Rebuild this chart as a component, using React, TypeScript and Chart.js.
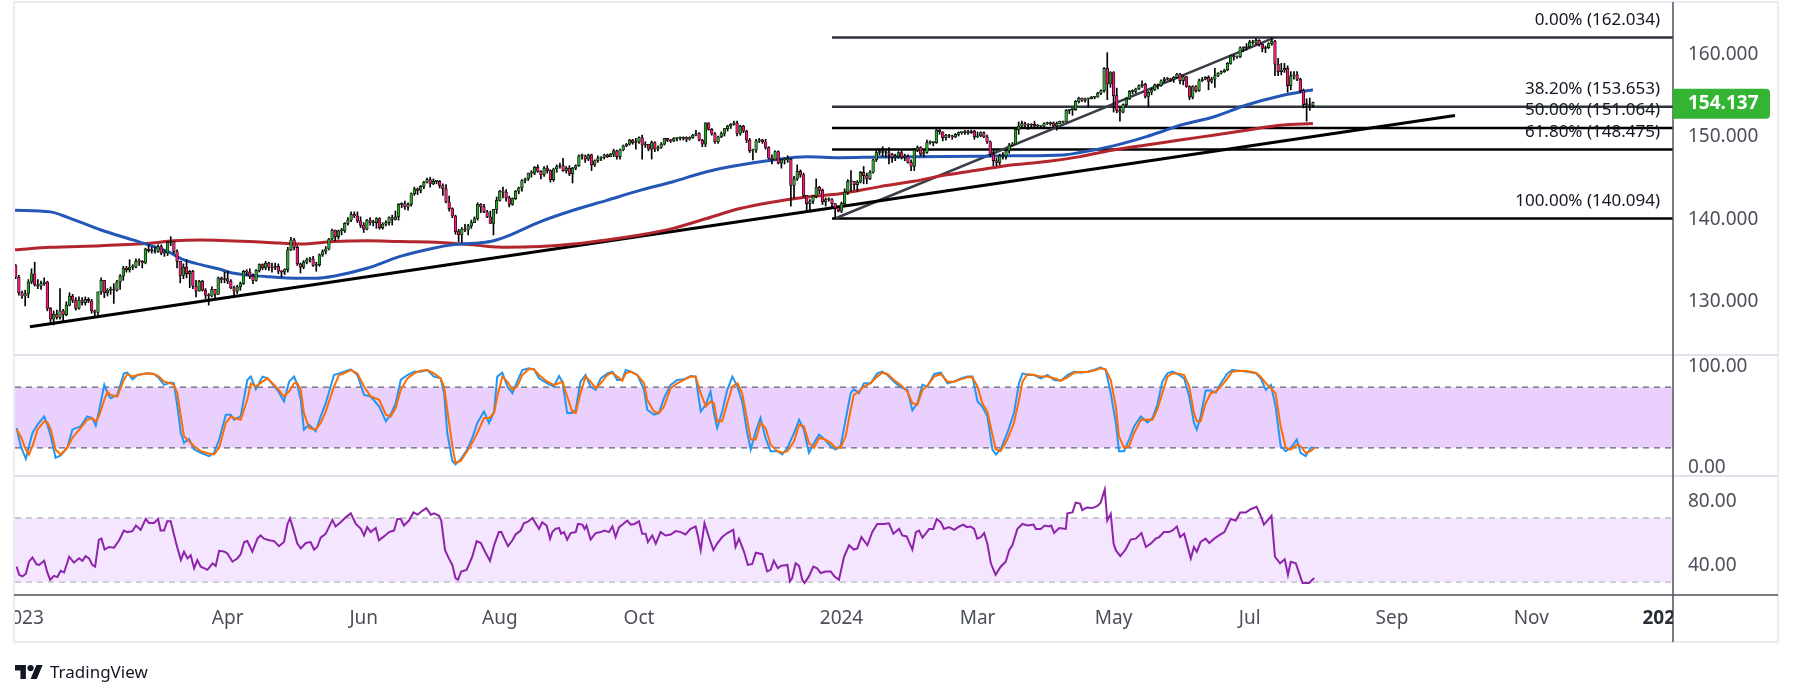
import React, { useEffect, useRef } from 'react';
import { Chart, registerables } from 'chart.js';

Chart.register(...registerables);

// ---------- x axis: one unit = one daily bar (Dec 29 2022 = bar 3) ----------
const X_MIN = 2.78;
const X_MAX = 526.8;
const FIRST_BAR = 3;
const FIRST_OPEN = 134.4;

const xLabels = ['2023', 'Apr', 'Jun', 'Aug', 'Oct', '2024', 'Mar', 'May', 'Jul', 'Sep', 'Nov', '2025'];
const xLabelBars = [5, 70, 113, 156, 200, 264, 307, 350, 393, 438, 482, 524];

// ---------- daily candles (USD/JPY) ----------
const closes = [
  133.0, 131.1, 130.7, 131.0, 132.4, 133.4, 132.1, 131.9, 132.2, 132.4,
  129.2, 127.9, 128.5, 128.1, 128.9, 128.4, 129.6, 130.7, 130.2, 129.2,
  130.2, 129.9, 130.3, 130.1, 128.9, 128.7, 131.2, 132.6, 131.1, 131.4,
  131.5, 131.4, 132.4, 133.1, 134.1, 133.9, 134.2, 134.2, 134.9, 134.9,
  134.7, 136.4, 136.2, 136.2, 136.1, 136.7, 135.9, 135.9, 137.2, 137.3,
  136.1, 134.9, 133.2, 134.2, 133.4, 133.7, 131.9, 131.3, 132.5, 131.4,
  130.8, 130.7, 131.5, 130.9, 132.9, 132.7, 132.8, 132.5, 131.7, 131.3,
  131.8, 132.2, 133.7, 133.6, 133.1, 132.6, 133.8, 134.5, 134.1, 134.7,
  134.2, 134.1, 134.3, 133.7, 133.6, 133.9, 136.3, 137.5, 136.6, 134.6,
  134.2, 134.8, 135.1, 135.2, 134.4, 134.5, 135.7, 136.1, 136.4, 137.6,
  138.7, 137.9, 138.6, 138.6, 139.5, 139.9, 140.6, 140.4, 139.8, 139.3,
  138.8, 139.9, 139.6, 139.6, 140.1, 139.0, 139.4, 139.6, 140.2, 140.0,
  140.3, 141.8, 141.9, 141.5, 141.8, 143.1, 143.7, 143.5, 144.0, 144.5,
  144.8, 144.3, 144.6, 144.6, 144.1, 143.7, 142.1, 141.3, 140.4, 138.5,
  138.1, 138.8, 138.7, 139.2, 139.6, 140.1, 141.8, 141.5, 140.9, 140.3,
  139.5, 141.2, 142.3, 143.4, 143.3, 142.6, 141.8, 142.5, 143.4, 143.8,
  144.7, 144.9, 145.6, 145.6, 146.3, 145.8, 145.4, 146.2, 145.9, 144.8,
  146.1, 146.4, 146.5, 145.9, 146.2, 145.5, 146.2, 146.5, 147.7, 147.7,
  147.3, 147.8, 146.6, 147.1, 147.4, 147.5, 147.8, 147.6, 147.9, 148.3,
  147.6, 148.4, 148.9, 149.1, 149.6, 149.3, 149.4, 149.9, 149.0, 149.1,
  148.5, 149.3, 148.5, 148.7, 149.1, 149.8, 149.6, 149.5, 149.8, 149.8,
  149.8, 149.9, 149.7, 149.9, 150.2, 150.4, 149.6, 149.1, 151.7, 150.9,
  150.4, 149.4, 150.0, 150.4, 151.0, 151.3, 151.5, 151.7, 150.4, 151.3,
  150.7, 149.6, 148.3, 148.4, 149.5, 149.6, 149.4, 148.7, 147.4, 147.2,
  148.2, 146.8, 147.2, 147.2, 147.3, 144.1, 144.9, 145.8, 145.4, 142.9,
  141.9, 142.2, 142.8, 143.9, 143.5, 142.1, 142.4, 142.4, 141.9, 141.4,
  141.0, 141.9, 143.3, 144.6, 144.6, 144.2, 144.5, 145.7, 145.3, 144.9,
  145.7, 147.2, 148.1, 148.1, 148.1, 148.1, 147.9, 147.5, 147.6, 148.1,
  147.5, 147.6, 146.9, 146.4, 148.4, 148.7, 147.9, 148.1, 149.3, 149.3,
  149.3, 150.8, 150.6, 149.9, 150.2, 150.1, 150.0, 150.3, 150.5, 150.5,
  150.7, 150.5, 150.7, 150.0, 150.1, 150.5, 150.0, 149.4, 147.9, 147.1,
  146.9, 147.7, 147.7, 148.3, 149.0, 149.1, 150.9, 151.3, 151.6, 151.4,
  151.4, 151.5, 151.3, 151.3, 151.3, 151.6, 151.6, 151.7, 151.3, 151.6,
  151.9, 151.8, 153.2, 153.3, 153.3, 154.3, 154.7, 154.4, 154.6, 154.6,
  154.8, 154.8, 155.3, 155.6, 158.3, 156.4, 157.8, 155.0, 153.2, 153.0,
  153.9, 154.6, 155.5, 155.5, 155.8, 156.2, 156.4, 154.9, 155.4, 155.7,
  156.3, 156.2, 156.8, 157.0, 157.0, 156.9, 157.2, 157.6, 156.8, 157.3,
  156.1, 154.8, 156.1, 155.6, 156.8, 157.0, 157.2, 156.7, 157.0, 157.4,
  157.7, 157.9, 158.1, 158.9, 159.8, 159.7, 159.7, 160.8, 160.8, 160.9,
  161.5, 161.4, 161.7, 161.2, 160.7, 160.8, 161.3, 161.6, 158.8, 157.9,
  158.1, 158.3, 156.2, 157.4, 157.5, 157.0, 155.6, 153.9, 153.9, 153.8, 154.137,
];
const highs = [
  134.5, 133.2, 131.3, 131.4, 132.7, 134.0, 134.8, 132.7, 132.5, 132.9,
  132.5, 129.3, 128.9, 129.0, 131.6, 129.1, 130.0, 131.1, 130.9, 130.5,
  130.6, 130.5, 130.6, 130.5, 130.3, 129.0, 131.2, 132.9, 132.6, 131.6,
  131.8, 132.2, 132.6, 133.3, 134.3, 134.3, 135.1, 134.5, 135.2, 135.2,
  135.0, 136.5, 136.9, 136.6, 136.6, 136.9, 136.9, 136.2, 137.3, 137.9,
  137.3, 136.3, 134.6, 134.6, 135.1, 133.8, 133.8, 132.6, 132.6, 132.6,
  131.6, 131.0, 131.8, 131.5, 133.0, 133.0, 133.6, 133.7, 132.7, 131.9,
  132.0, 132.4, 133.8, 133.9, 134.0, 133.4, 133.9, 134.6, 134.6, 134.9,
  134.8, 134.7, 134.7, 134.6, 133.8, 134.0, 136.6, 137.8, 137.7, 136.8,
  134.7, 135.0, 135.3, 135.4, 135.5, 134.8, 135.8, 136.3, 136.7, 137.7,
  138.8, 138.7, 138.7, 138.9, 139.6, 140.2, 140.9, 140.9, 140.9, 140.3,
  139.6, 140.0, 140.2, 139.9, 140.2, 140.2, 139.6, 139.8, 140.3, 140.5,
  141.0, 141.9, 142.0, 142.2, 142.0, 143.2, 143.9, 143.8, 144.1, 144.6,
  145.0, 145.1, 144.9, 144.7, 144.7, 144.3, 144.2, 142.8, 141.4, 140.5,
  138.8, 139.0, 139.4, 139.4, 139.9, 140.3, 142.0, 141.9, 141.8, 141.1,
  141.0, 141.2, 142.7, 143.5, 143.9, 143.6, 142.8, 142.6, 143.5, 143.9,
  144.8, 145.0, 145.6, 145.9, 146.4, 146.6, 145.9, 146.4, 146.5, 146.0,
  146.2, 146.6, 146.8, 147.4, 146.4, 146.5, 146.3, 146.6, 147.8, 147.9,
  147.8, 147.9, 147.9, 147.2, 147.7, 147.6, 147.9, 147.9, 148.0, 148.5,
  148.4, 148.5, 149.0, 149.2, 149.7, 149.7, 149.8, 150.0, 150.2, 149.4,
  149.1, 149.5, 149.4, 148.9, 149.3, 149.8, 149.8, 149.7, 149.9, 149.9,
  150.0, 150.0, 150.0, 150.0, 150.3, 150.8, 150.5, 149.7, 151.7, 151.7,
  151.0, 150.5, 150.1, 150.6, 151.0, 151.4, 151.6, 151.9, 151.9, 151.4,
  151.4, 150.8, 149.8, 148.5, 149.7, 149.8, 149.7, 149.7, 148.8, 147.8,
  148.3, 148.3, 147.3, 147.4, 147.7, 147.4, 145.2, 146.6, 146.0, 145.6,
  142.9, 142.4, 142.9, 144.9, 144.0, 143.7, 142.6, 142.6, 142.5, 141.9,
  141.6, 142.1, 143.7, 144.8, 145.9, 144.6, 144.7, 145.8, 146.4, 145.6,
  145.9, 147.3, 148.3, 148.5, 148.8, 148.3, 148.7, 148.0, 147.9, 148.2,
  148.3, 147.9, 147.8, 147.2, 148.6, 148.9, 148.8, 148.3, 149.6, 149.5,
  149.4, 150.9, 150.9, 150.6, 150.3, 150.3, 150.2, 150.4, 150.6, 150.6,
  150.8, 150.8, 150.8, 150.8, 150.6, 150.6, 150.6, 150.2, 149.5, 148.3,
  147.4, 147.9, 148.1, 148.4, 149.2, 149.3, 150.9, 151.8, 151.9, 151.8,
  151.6, 151.6, 151.9, 151.5, 151.4, 151.7, 151.8, 151.8, 151.8, 151.8,
  151.9, 151.9, 153.3, 153.3, 153.4, 154.4, 154.8, 154.7, 154.7, 154.7,
  154.9, 154.9, 155.4, 155.7, 158.4, 160.2, 157.9, 157.9, 155.9, 153.6,
  154.0, 154.7, 155.6, 155.7, 155.9, 156.3, 156.8, 156.5, 155.5, 155.9,
  156.4, 156.4, 156.9, 157.2, 157.2, 157.1, 157.3, 157.7, 157.7, 157.4,
  157.3, 156.2, 156.2, 156.2, 157.0, 157.2, 157.3, 157.4, 157.2, 158.3,
  157.8, 158.0, 158.2, 159.0, 159.9, 159.9, 159.8, 160.9, 160.9, 161.3,
  161.7, 161.7, 161.95, 161.8, 161.3, 161.0, 161.4, 162.03, 161.7, 159.5,
  158.9, 158.9, 158.6, 157.9, 157.9, 157.9, 157.1, 155.8, 154.6, 154.7, 154.2,
];
const lows = [
  132.8, 130.8, 130.4, 129.5, 130.5, 132.2, 131.9, 131.6, 131.5, 132.0,
  128.9, 127.5, 127.2, 127.9, 127.9, 127.6, 128.3, 129.5, 129.9, 129.0,
  129.1, 129.6, 129.6, 129.9, 128.6, 128.1, 128.4, 130.9, 130.5, 130.7,
  130.9, 129.8, 131.3, 131.5, 132.6, 133.6, 133.6, 133.9, 134.1, 134.4,
  134.1, 134.6, 136.0, 135.9, 135.9, 136.0, 135.7, 135.5, 135.6, 136.8,
  135.9, 134.1, 132.3, 132.8, 132.9, 131.7, 131.6, 130.6, 131.3, 131.3,
  130.4, 129.6, 130.6, 130.4, 130.9, 132.3, 132.3, 132.2, 131.6, 130.6,
  131.0, 131.4, 132.1, 133.2, 132.8, 132.2, 132.5, 133.6, 133.9, 133.9,
  133.8, 133.6, 133.9, 133.4, 133.0, 133.3, 133.6, 136.2, 136.3, 134.4,
  133.5, 134.0, 134.6, 134.8, 134.3, 133.7, 134.3, 135.5, 135.8, 136.3,
  137.5, 137.4, 137.6, 138.1, 138.4, 139.3, 139.7, 140.2, 139.6, 139.0,
  138.4, 138.7, 139.3, 139.2, 138.9, 138.8, 138.8, 139.2, 139.3, 139.3,
  139.9, 139.9, 141.4, 141.2, 141.1, 141.6, 142.9, 143.0, 143.2, 143.7,
  144.4, 143.9, 144.2, 144.3, 143.8, 142.9, 142.0, 141.0, 140.2, 138.2,
  137.3, 137.2, 138.5, 138.1, 138.9, 139.6, 139.9, 140.8, 140.8, 140.2,
  139.5, 138.1, 140.7, 142.2, 142.6, 142.2, 141.5, 141.7, 142.4, 143.1,
  143.4, 144.4, 144.7, 145.1, 145.4, 145.7, 144.9, 145.2, 145.6, 144.5,
  144.6, 145.7, 146.2, 145.8, 145.6, 145.3, 144.4, 146.0, 146.4, 147.3,
  146.9, 147.1, 145.9, 146.4, 146.9, 147.1, 147.3, 147.5, 147.6, 147.6,
  147.3, 147.3, 148.3, 148.8, 149.0, 149.1, 148.5, 149.2, 147.3, 148.7,
  148.3, 147.3, 148.2, 148.3, 148.6, 149.0, 149.4, 149.3, 149.4, 149.5,
  149.6, 149.6, 149.4, 149.6, 149.8, 150.1, 149.5, 148.8, 148.8, 150.8,
  150.2, 149.2, 149.2, 149.9, 150.1, 150.7, 151.0, 151.4, 150.1, 150.2,
  150.5, 149.3, 148.1, 147.2, 148.1, 149.3, 149.2, 148.5, 147.3, 146.7,
  147.2, 146.7, 146.2, 146.7, 146.9, 141.6, 142.6, 144.7, 145.1, 142.7,
  140.9, 140.9, 141.9, 142.6, 143.1, 141.8, 141.6, 142.2, 141.4, 140.094,
  140.9, 140.8, 141.8, 143.0, 143.4, 143.6, 143.4, 144.4, 144.3, 144.3,
  144.8, 145.6, 147.0, 147.8, 147.6, 147.5, 146.7, 146.9, 147.1, 147.4,
  147.3, 147.1, 146.8, 145.9, 145.9, 148.2, 147.7, 147.6, 148.0, 149.1,
  148.9, 149.2, 150.3, 149.5, 149.6, 149.9, 149.7, 149.9, 150.1, 150.3,
  150.3, 150.3, 150.4, 149.7, 149.9, 150.0, 149.9, 149.2, 147.6, 146.5,
  146.5, 146.6, 147.3, 147.3, 148.0, 148.9, 149.2, 150.3, 151.0, 151.2,
  150.9, 151.2, 151.0, 151.1, 151.2, 151.2, 151.5, 151.4, 151.1, 150.8,
  151.6, 151.7, 151.8, 152.8, 152.6, 153.2, 154.1, 154.3, 154.2, 153.6,
  154.6, 154.6, 154.8, 155.1, 155.4, 154.5, 156.0, 153.0, 152.9, 151.9,
  152.9, 153.7, 154.5, 155.2, 155.3, 155.7, 156.0, 154.7, 153.6, 155.1,
  155.6, 155.8, 156.1, 156.6, 156.9, 156.7, 156.6, 157.1, 156.4, 156.3,
  156.0, 154.5, 154.6, 155.4, 155.5, 156.7, 156.9, 155.7, 156.5, 156.0,
  157.3, 157.6, 157.8, 158.0, 158.8, 159.3, 159.5, 159.6, 160.3, 160.5,
  160.8, 161.2, 161.2, 161.0, 160.3, 160.2, 160.7, 161.1, 157.4, 157.4,
  157.5, 157.8, 155.4, 155.7, 157.0, 156.8, 155.4, 153.5, 151.9, 153.2, 153.6,
];

// ---------- moving averages [bar, value] ----------
const sma100 = [
  [2.8, 141.1], [14, 140.9], [19, 140.3], [30, 138.7], [40, 137.5], [51, 136.1], [56, 135.1],
  [61.5, 134.5], [67, 134.0], [72, 133.45], [82.5, 133.05], [93, 132.84], [98, 132.84],
  [103.5, 133.1], [114, 134.06], [124.5, 135.5], [135, 136.5], [141, 136.9], [148, 137.1],
  [153, 137.3], [158, 137.9], [168.7, 139.7], [179.2, 141.1], [189.8, 142.3], [200.3, 143.5],
  [210.8, 144.56], [221.4, 145.77], [231.9, 146.58], [242.4, 147.19], [253, 147.59],
  [263.5, 147.47], [276.2, 147.55], [297.3, 147.6], [318.3, 147.7], [334.1, 147.8],
  [339.4, 148.1], [349.9, 148.9], [360.4, 150.02], [365.7, 150.7], [371, 151.4],
  [381.5, 152.4], [392, 153.86], [402.6, 154.95], [413, 155.7],
];
const sma200 = [
  [2.8, 136.3], [14, 136.6], [30, 136.8], [45.5, 137.1], [53, 137.4], [61.5, 137.5],
  [82.5, 137.2], [93, 137.0], [103.5, 137.3], [114, 137.4], [124.5, 137.3], [137, 137.2],
  [147.6, 136.9], [158, 136.6], [168.7, 136.7], [179.2, 137.0], [189.8, 137.5], [200.3, 138.1],
  [210.8, 138.9], [221.4, 140.1], [231.9, 141.3], [242.4, 142.1], [253, 142.7], [263.5, 143.1],
  [276.2, 143.96], [286.8, 144.6], [297.3, 145.4], [307.8, 146.0], [318.3, 146.6],
  [328.9, 147.0], [339.4, 147.6], [349.9, 148.4], [360.4, 149.0], [371, 149.6],
  [381.5, 150.2], [392, 150.8], [402.6, 151.4], [413, 151.6],
];

// ---------- drawings ----------
const trendLine = [[7.5, 126.98], [457.9, 152.58]];
const channelLine = [[262.0, 140.094], [400.8, 162.034]];
const FIB_START = 261.0;
const fibPrices = [162.034, 153.653, 151.064, 148.475, 140.094];
const fibLabels = ['0.00% (162.034)', '38.20% (153.653)', '50.00% (151.064)', '61.80% (148.475)', '100.00% (140.094)'];
const fibColors = ['#2f323c', '#2f323c', '#000000', '#000000', '#000000'];
const LAST_PRICE = 154.137;

// ---------- Stochastic [bar, %K, %D] ----------
const stochSamples = [
  [3.3, 39.6, 38.0], [4.6, 21.6, 31.4], [6.2, 9.1, 18.3], [7.2, 21.6, 13.4], [8.3, 34.7, 21.6],
  [9.9, 42.9, 38.0], [12, 51.1, 46.2], [13, 42.9, 45.2], [14.1, 31.4, 38.0], [15.6, 10.1, 18.3],
  [17.2, 12.4, 13.4], [19.3, 20.0, 20.0], [20.9, 38.0, 29.8], [23.5, 41.3, 39.6], [25.6, 51.1, 47.8],
  [27.2, 49.5, 49.5], [28.3, 41.9, 46.2], [29.3, 56.0, 51.1], [31, 82.3, 67.5], [32, 74.1, 75.7],
  [33, 69.2, 72.4], [35.1, 72.4, 70.8], [37.2, 93.7, 87.2], [38.3, 94.4, 93.1], [39.9, 87.8, 90.5],
  [41.5, 92.1, 92.1], [44.6, 93.7, 93.7], [46.7, 93.1, 93.1], [48.3, 88.8, 90.5], [49.9, 82.3, 85.5],
  [52, 84.6, 83.9], [53, 83.9, 82.3], [54.1, 60.9, 74.1], [55.2, 34.7, 51.1], [56.2, 24.9, 31.4],
  [57.8, 28.8, 26.5], [59.4, 18.3, 21.6], [61.5, 15.1, 16.7], [64.1, 11.8, 14.4], [65.7, 15.1, 13.4],
  [67.3, 28.2, 20.0], [69.4, 52.8, 44.6], [71, 52.8, 51.1], [72, 47.8, 49.5], [74.1, 51.1, 47.8],
  [76.2, 87.2, 67.5], [77.3, 90.5, 83.9], [78.9, 78.0, 80.6], [81, 90.5, 85.5], [82.6, 88.8, 88.8],
  [85.7, 77.4, 79.0], [87.8, 65.9, 70.8], [89.4, 85.5, 75.7], [91, 90.5, 83.9], [92, 82.3, 83.9],
  [93.1, 67.5, 77.4], [94.1, 38.0, 54.4], [95.7, 42.9, 39.6], [97.8, 36.4, 38.0], [99.4, 51.1, 44.6],
  [101, 64.2, 56.0], [103.6, 92.1, 80.6], [105.2, 93.7, 92.1], [106.8, 95.4, 93.7], [108.9, 97.7, 97.0],
  [111, 92.1, 93.7], [113.1, 72.4, 80.6], [115.2, 70.8, 70.8], [117.9, 60.9, 67.5], [120, 46.2, 52.8],
  [121.5, 52.8, 51.1], [123.1, 64.2, 59.3], [124.7, 87.2, 77.4], [126.8, 92.1, 88.8], [128.9, 95.4, 93.7],
  [130.9, 95.4, 96.4], [133.1, 97.0, 97.0], [135.2, 90.5, 93.7], [137.3, 88.8, 88.8], [138.4, 74.1, 80.6],
  [139.4, 34.7, 57.7], [141, 6.9, 21.6], [142, 3.6, 5.2], [143.6, 8.5, 6.9], [145.7, 18.3, 16.7],
  [147.3, 29.8, 24.9], [148.9, 44.6, 34.7], [151, 56.0, 49.5], [152.6, 44.6, 49.5], [154.2, 56.0, 54.4],
  [155.2, 90.5, 70.8], [156.8, 94.4, 90.5], [158.4, 80.6, 85.5], [160, 74.1, 77.4], [161.5, 85.5, 80.6],
  [163.1, 97.0, 92.1], [165.2, 98.7, 98.0], [166.8, 97.7, 97.7], [168.4, 88.8, 92.1], [171, 83.9, 85.5],
  [173.1, 80.6, 82.3], [174.7, 91.1, 83.9], [175.8, 85.5, 85.5], [177.3, 54.4, 70.8], [178.9, 54.4, 56.0],
  [180, 57.7, 54.4], [181.5, 85.5, 74.1], [183.1, 92.1, 90.5], [184.7, 80.6, 85.5], [186.3, 77.4, 79.0],
  [187.9, 88.8, 83.9], [190, 93.7, 92.1], [191.6, 95.4, 94.4], [193.1, 87.2, 90.5], [194.7, 87.2, 86.5],
  [195.8, 97.0, 93.7], [197.4, 95.4, 95.4], [199.5, 92.1, 92.1], [201.6, 77.4, 83.9], [202.6, 57.7, 67.5],
  [204.7, 52.8, 56.0], [206.3, 54.4, 54.4], [207.9, 69.2, 60.9], [210, 82.3, 79.0], [212.1, 87.2, 83.9],
  [214.2, 87.8, 87.2], [216.3, 91.1, 90.5], [217.9, 90.5, 90.5], [219.5, 56.0, 74.1], [221.1, 62.6, 60.9],
  [222.6, 75.7, 65.9], [223.7, 54.4, 64.2], [224.7, 39.6, 46.2], [226.3, 56.0, 46.2], [227.9, 77.4, 64.2],
  [229.5, 90.5, 80.6], [231.1, 80.6, 83.9], [232.6, 65.9, 74.1], [234.2, 34.7, 47.8], [235.3, 18.3, 28.2],
  [236.9, 36.4, 28.2], [238.4, 49.5, 44.6], [240, 29.8, 39.6], [241.6, 16.7, 23.2], [243.7, 16.7, 16.7],
  [245.3, 13.4, 15.1], [246.9, 20.0, 16.7], [249, 34.7, 26.5], [250.6, 47.8, 42.9], [252.1, 38.0, 41.3],
  [253.7, 15.1, 24.9], [255.3, 24.9, 20.0], [256.9, 33.1, 29.8], [258.5, 28.8, 28.8], [260.6, 21.6, 24.9],
  [262.1, 18.3, 20.0], [263.7, 21.6, 20.0], [265.3, 47.8, 31.4], [266.9, 74.1, 57.7], [267.9, 78.0, 72.4],
  [269.5, 74.1, 75.7], [271.1, 83.9, 80.6], [273.2, 83.9, 83.9], [275.3, 93.7, 90.5], [276.9, 95.4, 94.4],
  [278.5, 92.1, 93.1], [280.6, 85.5, 87.2], [282.7, 80.0, 82.3], [284.8, 77.4, 75.7], [286.4, 57.0, 64.2],
  [288, 64.2, 62.6], [289.6, 82.3, 77.4], [291.1, 80.6, 81.3], [293.3, 93.1, 90.5], [295.4, 94.4, 93.1],
  [297.5, 83.9, 85.5], [299.6, 85.5, 85.5], [301.7, 88.8, 87.8], [303.8, 90.5, 89.8], [305.4, 90.5, 89.8],
  [307, 65.9, 80.6], [308.5, 60.9, 64.2], [310.1, 51.1, 56.0], [311.7, 18.3, 33.1], [312.8, 13.4, 18.3],
  [314.3, 18.3, 16.7], [316.4, 34.7, 28.2], [318.5, 54.4, 44.6], [320.1, 83.9, 67.5], [321.2, 93.7, 85.5],
  [322.8, 92.1, 93.1], [324.9, 92.1, 92.1], [327, 88.8, 90.5], [329.1, 92.1, 90.5], [331.2, 87.2, 88.8],
  [333.3, 86.5, 86.5], [335.4, 92.1, 89.8], [337.5, 95.4, 94.4], [339.6, 94.4, 95.1], [341.7, 95.4, 95.1],
  [343.8, 97.0, 96.4], [345.9, 99.6, 98.7], [347.5, 97.0, 97.7], [349.1, 74.1, 87.2], [350.7, 44.6, 60.9],
  [351.7, 16.7, 31.4], [353.3, 16.7, 20.0], [354.9, 28.2, 21.6], [356.5, 41.3, 34.7], [358.6, 51.1, 47.8],
  [360.7, 45.2, 47.8], [362.3, 49.5, 47.8], [363.8, 62.6, 57.7], [365.4, 85.5, 74.1], [367, 93.7, 90.5],
  [368.6, 95.4, 93.7], [370.2, 93.1, 93.7], [372.3, 88.8, 92.1], [373.9, 70.8, 80.6], [375.4, 44.6, 54.4],
  [376.3, 38.0, 46.2], [377.5, 51.1, 46.2], [379.1, 76.7, 64.2], [380.7, 76.7, 74.1], [382.3, 74.7, 75.7],
  [383.9, 83.9, 80.6], [386, 93.7, 88.8], [387.5, 97.0, 95.4], [389.7, 96.4, 96.4], [392.3, 95.4, 95.7],
  [395, 93.7, 94.4], [396.5, 88.8, 90.5], [398.1, 77.4, 83.9], [399.7, 82.3, 79.0], [401.2, 60.9, 74.1],
  [402.8, 21.6, 41.3], [404.4, 16.7, 20.0], [406, 20.0, 18.3], [407.9, 28.2, 23.2], [409.1, 15.1, 21.6],
  [410.7, 11.8, 15.1], [412.3, 20.0, 16.7], [413.5, 20.0, 20.0],
];

// ---------- RSI [bar, value] ----------
const rsiSamples = [
  [3.3, 39.6], [4.1, 34.5], [5.1, 33.5], [6.2, 35.1], [7.2, 42.7], [8.3, 45.4], [9.6, 41.1], [10.4, 40.7],
  [12, 43.3], [13, 36.0], [13.9, 31.4], [15.1, 33.9], [16.2, 33.1], [17.2, 37.0], [18.3, 36.0], [19.9, 45.8],
  [21.4, 42.1], [23, 44.8], [24.1, 43.3], [25.1, 46.2], [26.2, 44.8], [27.2, 40.7], [28.1, 39.6], [29.3, 56.5],
  [30.1, 57.1], [31.1, 50.3], [32.5, 51.9], [34.1, 51.5], [35.7, 56.1], [37.2, 62.2], [38.3, 61.2], [39.9, 61.8],
  [41, 65.3], [42.5, 62.6], [44.1, 69.4], [45.1, 66.9], [46.7, 66.9], [48, 69.4], [48.8, 62.2], [49.9, 62.2],
  [50.9, 68.0], [52, 68.0], [53.6, 55.0], [55.2, 43.7], [56.2, 48.9], [57.3, 44.8], [58.3, 46.8], [59.4, 38.6],
  [60.4, 43.7], [61.5, 39.6], [63.6, 37.6], [65.2, 41.7], [66.2, 40.1], [67.3, 49.5], [68.8, 49.1], [69.9, 47.9],
  [71.5, 42.7], [73.1, 44.8], [74.1, 47.4], [75.2, 55.0], [76.2, 55.6], [77.8, 48.9], [79.4, 57.1], [80.4, 59.1],
  [81.5, 57.1], [83.1, 56.1], [84.7, 55.6], [86.2, 52.4], [87.8, 55.0], [88.9, 66.3], [89.7, 69.8], [91, 61.2],
  [92, 54.0], [93.1, 51.0], [94.7, 54.4], [96.2, 55.0], [97.3, 50.3], [98.3, 51.9], [99.4, 57.7], [101, 60.2],
  [103.1, 68.8], [104.1, 64.7], [105.7, 67.3], [107.3, 70.4], [108.9, 72.9], [110.5, 66.3], [112.1, 63.2],
  [113.1, 59.1], [114.1, 64.3], [115.2, 61.2], [116.8, 63.8], [117.8, 56.1], [119.4, 58.5], [121, 61.2],
  [122.6, 62.2], [123.6, 69.4], [124.7, 69.4], [125.7, 65.3], [127.3, 68.4], [128.7, 73.5], [130, 72.1],
  [131.5, 74.5], [132.8, 76.2], [134.2, 72.1], [135.2, 72.9], [136.8, 71.4], [137.5, 68.4], [138.7, 49.9],
  [139.9, 44.8], [141, 40.7], [142, 32.5], [142.8, 31.4], [143.8, 36.6], [145.5, 37.6], [147.3, 45.8],
  [148.7, 55.6], [150, 54.4], [151.5, 48.3], [152.9, 43.3], [154.2, 53.0], [155.7, 61.2], [156.5, 61.2],
  [157.3, 57.7], [158.6, 52.4], [160, 56.1], [161, 59.7], [162.6, 62.2], [163.6, 66.7], [164.9, 67.7],
  [166.3, 70.0], [167.3, 66.7], [168.4, 63.2], [169.4, 67.3], [170.8, 65.3], [171.9, 57.1], [172.6, 61.2],
  [173.6, 63.2], [174.7, 63.8], [175.4, 60.2], [176.3, 61.2], [177.3, 56.5], [178.4, 60.6], [180, 61.2],
  [180.7, 66.3], [182.1, 65.9], [182.8, 63.2], [183.4, 65.3], [184.7, 56.5], [186.3, 60.6], [187.9, 61.2],
  [189.1, 62.2], [190.5, 61.2], [191.6, 64.7], [192.6, 58.1], [193.7, 64.3], [195, 66.3], [196.3, 68.4],
  [197.4, 65.9], [198.6, 66.3], [200, 68.0], [201, 60.2], [202.1, 60.2], [202.8, 55.0], [204.2, 59.1],
  [205.3, 54.0], [206.8, 61.2], [208.4, 59.1], [210, 59.7], [211.6, 61.8], [213.2, 61.2], [214.7, 59.7],
  [216.3, 63.2], [217.9, 64.7], [218.6, 59.1], [219.5, 49.9], [220.7, 66.7], [222.1, 58.1], [223.5, 49.9],
  [224.7, 54.0], [226.3, 58.1], [227.9, 60.6], [229.8, 62.6], [230.5, 51.9], [231.6, 57.1], [233.2, 48.9],
  [234.4, 40.7], [235.8, 41.3], [236.9, 48.3], [239, 47.4], [240.5, 36.6], [241.6, 37.6], [242.6, 43.3],
  [243.9, 38.6], [244.8, 40.1], [246.9, 40.7], [247.7, 30.4], [248.4, 32.5], [249.5, 41.7], [250.6, 40.1],
  [251.6, 31.4], [252.3, 29.4], [253.7, 33.5], [255.1, 39.6], [256.3, 38.6], [257.4, 35.6], [259, 36.6],
  [260.6, 36.6], [261.8, 33.5], [263.2, 31.4], [264.8, 45.8], [266.4, 53.0], [267.9, 50.3], [269, 51.0],
  [270.3, 58.1], [272.2, 53.0], [273.7, 61.2], [275.3, 66.3], [277.4, 66.3], [279, 66.7], [280.4, 60.2],
  [282.2, 63.2], [283.2, 59.1], [284.6, 58.5], [286.4, 50.3], [287.5, 61.2], [288.5, 62.2], [289.6, 57.7],
  [290.6, 60.2], [291.7, 63.2], [293, 63.2], [294.1, 69.4], [295.4, 67.3], [296.4, 63.2], [298, 64.3],
  [299.6, 62.6], [301.2, 64.7], [302.5, 65.9], [303.6, 64.3], [304.8, 64.7], [305.9, 63.2], [306.9, 57.1],
  [308, 58.1], [309.1, 60.6], [310.1, 54.0], [311.2, 41.7], [312.7, 34.5], [314.3, 39.6], [315.9, 42.7],
  [317, 49.9], [318, 53.0], [319.6, 63.2], [321.2, 66.3], [322.8, 65.3], [324.7, 65.9], [325.4, 63.2],
  [327, 63.2], [328.2, 65.3], [329.6, 64.7], [330.3, 65.3], [331.2, 60.6], [332.8, 63.8], [334.9, 63.2],
  [335.4, 72.9], [337, 73.5], [338, 79.6], [339.4, 79.0], [340.1, 74.9], [341.5, 76.6], [343.3, 76.2],
  [344.9, 77.6], [345.9, 79.6], [347.2, 87.8], [348, 68.4], [349.1, 72.5], [350, 54.0], [350.7, 49.9],
  [352.1, 46.2], [353.8, 50.3], [355.4, 56.5], [357, 57.1], [358.8, 60.6], [360.2, 51.9], [361.7, 54.0],
  [363.3, 57.1], [364.4, 58.1], [365.9, 61.2], [367.5, 61.2], [368.6, 62.2], [370, 64.7], [371, 58.1],
  [372.3, 60.2], [374.4, 44.8], [375.4, 51.9], [376.3, 48.9], [377.5, 55.0], [379.1, 57.1], [380.2, 54.4],
  [381.8, 57.1], [383.3, 59.1], [385, 61.2], [387, 69.4], [388.6, 68.4], [390, 73.5], [391.8, 73.5],
  [393.3, 75.5], [395.2, 77.0], [396.5, 71.4], [397.5, 65.9], [398.6, 68.4], [399.9, 71.4], [401, 45.8],
  [402.6, 41.7], [404.1, 44.2], [405.1, 34.5], [406, 42.7], [407.6, 41.7], [409.7, 29.4], [411.8, 29.4],
  [413.4, 32.5],
];

// ---------- axis ticks ----------
const priceTicks = [130, 140, 150, 160];
const stochTicks = [0, 100];
const rsiTicks = [40, 80];
const stochBand = [20, 80];
const rsiBand = [30, 70];

// ---------- styles ----------
const FONT = '"Noto Sans", "DejaVu Sans", sans-serif';
const AXIS_TEXT = '#4b4f5a';
const UP = '#2ea22e';
const DOWN = '#ec1b73';
const AXIS_W = 105;

function yAxis(weight: number, min: number, max: number, ticks: number[], decimals: number) {
  return {
    type: 'linear',
    position: 'right',
    stack: 'panes',
    stackWeight: weight,
    min,
    max,
    afterBuildTicks: (s: any) => {
      s.ticks = ticks.map((v) => ({ value: v }));
    },
    afterFit: (s: any) => {
      s.width = AXIS_W;
      s.paddingTop = 0;
      s.paddingBottom = 0;
      s.paddingLeft = 0;
      s.paddingRight = 0;
    },
    grid: { display: false, drawTicks: false },
    border: { display: false },
    ticks: {
      callback: (v: any) => Number(v).toFixed(decimals),
      color: AXIS_TEXT,
      font: { size: 19, family: FONT },
      padding: 15,
      autoSkip: false,
      maxRotation: 0,
    },
  };
}

const overlayPlugin = {
  id: 'tvOverlay',
  afterDraw(chart: any) {
    const { ctx, chartArea } = chart;
    const xs = chart.scales.x;
    const ym = chart.scales.yMain;
    const ys = chart.scales.yStoch;
    const yr = chart.scales.yRsi;
    const outerRight = chart.width - 15;
    const frameLeft = chartArea.left - 1;
    const frameBottom = chartArea.bottom + 47;
    ctx.save();

    // fib labels
    ctx.font = `17px ${FONT}`;
    ctx.fillStyle = '#131722';
    ctx.textAlign = 'right';
    ctx.textBaseline = 'middle';
    fibPrices.forEach((p, i) => {
      ctx.fillText(fibLabels[i], chartArea.right - 13, ym.getPixelForValue(p) - 17.5);
    });

    // frame
    ctx.strokeStyle = '#ebebf3';
    ctx.lineWidth = 2;
    ctx.strokeRect(frameLeft, chartArea.top - 1, outerRight - frameLeft, frameBottom - chartArea.top + 1);
    ctx.strokeStyle = '#e0e3eb';
    ctx.lineWidth = 2;
    [ys.top, yr.top].forEach((y: number) => {
      ctx.beginPath();
      ctx.moveTo(frameLeft, y);
      ctx.lineTo(outerRight, y);
      ctx.stroke();
    });
    ctx.strokeStyle = '#50535e';
    ctx.lineWidth = 1.5;
    ctx.beginPath();
    ctx.moveTo(frameLeft, chartArea.bottom);
    ctx.lineTo(outerRight, chartArea.bottom);
    ctx.moveTo(chartArea.right, chartArea.top - 1);
    ctx.lineTo(chartArea.right, frameBottom);
    ctx.stroke();

    // time axis labels (clipped to the pane width)
    ctx.save();
    ctx.beginPath();
    ctx.rect(chartArea.left, chartArea.bottom + 1, chartArea.right - chartArea.left, 45);
    ctx.clip();
    ctx.textAlign = 'center';
    ctx.textBaseline = 'middle';
    xLabels.forEach((t, i) => {
      ctx.font = `${t === '2025' ? 'bold ' : ''}19px ${FONT}`;
      ctx.fillStyle = t === '2025' ? '#2a2e39' : AXIS_TEXT;
      ctx.fillText(t, xs.getPixelForValue(xLabelBars[i]), chartArea.bottom + 24);
    });
    ctx.restore();

    // last price tag
    const py = ym.getPixelForValue(LAST_PRICE) + 1;
    ctx.fillStyle = '#33b533';
    ctx.beginPath();
    if (ctx.roundRect) ctx.roundRect(chartArea.right, py - 15, 97, 30, [0, 4, 4, 0]);
    else ctx.rect(chartArea.right, py - 15, 97, 30);
    ctx.fill();
    ctx.fillStyle = '#ffffff';
    ctx.font = `bold 19px ${FONT}`;
    ctx.textAlign = 'left';
    ctx.textBaseline = 'middle';
    ctx.fillText(LAST_PRICE.toFixed(3), chartArea.right + 15, py);
    ctx.restore();
  },
};

export default function App() {
  const ref = useRef<HTMLCanvasElement | null>(null);

  useEffect(() => {
    document.body.style.margin = '0';
    if (!ref.current) return;

    const opens = closes.map((c, i) => (i === 0 ? FIRST_OPEN : closes[i - 1]));
    const barX = closes.map((_, i) => FIRST_BAR + i);
    const candleColors = closes.map((c, i) => (c >= opens[i] ? UP : DOWN));

    const line = (pts: number[][], color: string, width: number, axis: string, order: number, extra: any = {}) => ({
      type: 'line',
      data: pts.map(([x, y]) => ({ x, y })),
      borderColor: color,
      borderWidth: width,
      pointRadius: 0,
      yAxisID: axis,
      fill: false,
      tension: 0,
      order,
      ...extra,
    });

    const datasets: any[] = [
      // Stochastic band
      line([[X_MIN, stochBand[1]], [X_MAX, stochBand[1]]], '#5f6270', 1.3, 'yStoch', 200, {
        borderDash: [6, 5],
        fill: { value: stochBand[0] },
        backgroundColor: '#ead0fd',
      }),
      line([[X_MIN, stochBand[0]], [X_MAX, stochBand[0]]], '#5f6270', 1.3, 'yStoch', 199, { borderDash: [6, 5] }),
      // RSI band
      line([[X_MIN, rsiBand[1]], [X_MAX, rsiBand[1]]], '#b9b9c2', 1.3, 'yRsi', 198, {
        borderDash: [6, 5],
        fill: { value: rsiBand[0] },
        backgroundColor: '#f4e6fe',
      }),
      line([[X_MIN, rsiBand[0]], [X_MAX, rsiBand[0]]], '#b9b9c2', 1.3, 'yRsi', 197, { borderDash: [6, 5] }),
      // fib levels
      ...fibPrices.map((p, i) => line([[FIB_START, p], [X_MAX, p]], fibColors[i], 2.5, 'yMain', 150 - i)),
      // channel and trend lines
      line(channelLine, '#3a3e48', 2.5, 'yMain', 120),
      line(trendLine, '#000000', 3, 'yMain', 119),
      // moving averages
      line(sma200, '#b3262d', 3, 'yMain', 110, { cubicInterpolationMode: 'monotone' }),
      line(sma100, '#2356b5', 3, 'yMain', 109, { cubicInterpolationMode: 'monotone' }),
      // candle wicks
      {
        type: 'bar',
        data: barX.map((x, i) => ({ x, y: [lows[i], highs[i]] })),
        backgroundColor: '#000000',
        barThickness: 1,
        grouped: false,
        yAxisID: 'yMain',
        order: 60,
      },
      // candle bodies
      {
        type: 'bar',
        data: barX.map((x, i) => ({ x, y: [opens[i], closes[i]] })),
        backgroundColor: candleColors,
        borderColor: '#000000',
        borderWidth: 0.7,
        borderSkipped: false,
        barThickness: 2.7,
        minBarLength: 1,
        grouped: false,
        yAxisID: 'yMain',
        order: 55,
      },
      // Stochastic
      line(stochSamples.map(([x, k]) => [x, k]), '#2196f3', 2, 'yStoch', 50),
      line(stochSamples.map(([x, , d]) => [x, d]), '#ff6d00', 2, 'yStoch', 45),
      // RSI
      line(rsiSamples, '#8e24aa', 2, 'yRsi', 40),
    ];

    const chart = new Chart(ref.current, {
      type: 'line',
      data: { datasets },
      options: {
        animation: false,
        responsive: false,
        events: [],
        layout: { padding: { left: 15, right: 15, top: 3, bottom: 101 } },
        plugins: { legend: { display: false }, tooltip: { enabled: false } },
        scales: {
          x: { type: 'linear', min: X_MIN, max: X_MAX, display: false, offset: false },
          yMain: yAxis(352, 123.55, 166.22, priceTicks, 3),
          yStoch: yAxis(121, -7.9, 111.9, stochTicks, 2),
          yRsi: yAxis(119, 21.9, 96.25, rsiTicks, 2),
        },
      } as any,
      plugins: [overlayPlugin],
    } as any);

    return () => chart.destroy();
  }, []);

  return (
    <div style={{ position: 'relative', width: 1793, height: 696, background: '#ffffff', overflow: 'hidden' }}>
      <canvas ref={ref} width={1793} height={696} style={{ display: 'block' }} />
      <div
        style={{
          position: 'absolute',
          left: 15,
          top: 660,
          display: 'flex',
          alignItems: 'center',
          gap: 7,
          fontFamily: FONT,
          fontSize: 17,
          color: '#131722',
          lineHeight: '24px',
        }}
      >
        <svg width="28" height="14" viewBox="0 4 36 18">
          <path d="M14 22H7V11H0V4h14v18zM28 22h-8l7.5-18h8L28 22z" fill="#131722" />
          <circle cx="20" cy="8" r="4" fill="#131722" />
        </svg>
        <span>TradingView</span>
      </div>
    </div>
  );
}
